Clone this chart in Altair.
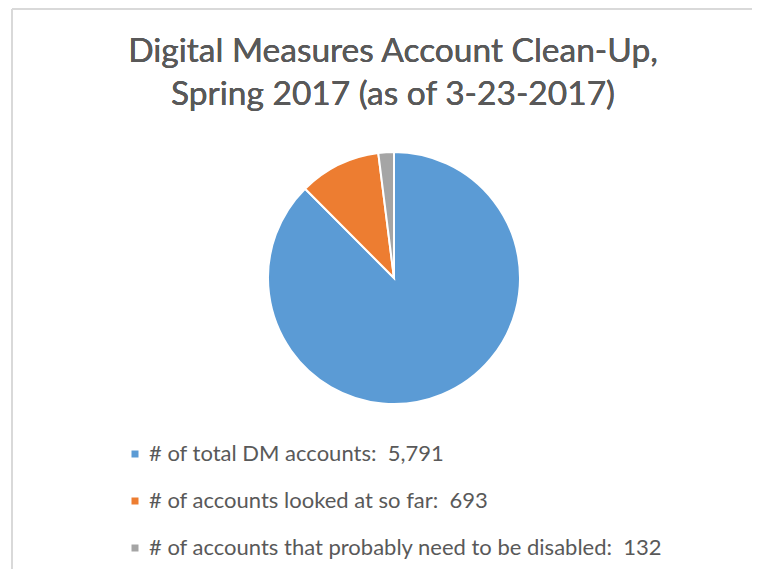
import altair as alt
import pandas as pd

title_lines = ["Digital Measures Account Clean-Up,", "Spring 2017 (as of 3-23-2017)"]
categories = [
    "# of total DM accounts",
    "# of accounts looked at so far",
    "# of accounts that probably need to be disabled",
]
values = [5791, 693, 132]
colors = ["#5B9BD5", "#ED7D31", "#A5A5A5"]

NBSP = "\u00a0"
labels = [f"{c}:{NBSP} {v:,}" for c, v in zip(categories, values)]
df = pd.DataFrame({"label": labels, "value": values, "order": list(range(len(values)))})

PAD_TOP = 130
W, H = 744, 577 - 16 - PAD_TOP

pie = alt.Chart(df).mark_arc(
    outerRadius=126, stroke="white", strokeWidth=2
).encode(
    theta=alt.Theta("value:Q", stack=True),
    order=alt.Order("order:Q"),
    color=alt.Color(
        "label:N",
        scale=alt.Scale(domain=labels, range=colors),
        sort=labels,
        legend=alt.Legend(
            title=None,
            orient="none",
            legendX=116,
            legendY=305,
            symbolType="square",
            symbolSize=49,
            symbolStrokeWidth=0,
            labelFontSize=22,
            labelFont="Lato",
            labelColor="#595959",
            labelOffset=3,
            rowPadding=25,
            labelLimit=700,
        ),
    ),
    x=alt.value(386),
    y=alt.value(140),
)

title = alt.Chart(df).mark_text(
    font="Lato",
    fontSize=33.5,
    color="#595959",
    align="center",
    baseline="alphabetic",
    lineHeight=43,
).encode(
    text=alt.value(title_lines),
    x=alt.value(385),
    y=alt.value(-PAD_TOP + 54),
)

frame_top = alt.Chart(df).mark_rule(color="#d9d9d9", strokeWidth=2).encode(
    x=alt.value(4), x2=alt.value(W + 10), y=alt.value(-PAD_TOP + 1)
)
frame_left = alt.Chart(df).mark_rule(color="#d9d9d9", strokeWidth=2).encode(
    x=alt.value(4), y=alt.value(-PAD_TOP + 1), y2=alt.value(H + 10)
)

chart = alt.layer(frame_top, frame_left, title, pie).properties(
    width=W,
    height=H,
    autosize=alt.AutoSizeParams(type="none"),
    padding={"left": 0, "top": PAD_TOP, "right": 0, "bottom": 0},
).configure_view(stroke=None)

chart.save("out.html", embed_options={"renderer": "svg", "actions": False})
